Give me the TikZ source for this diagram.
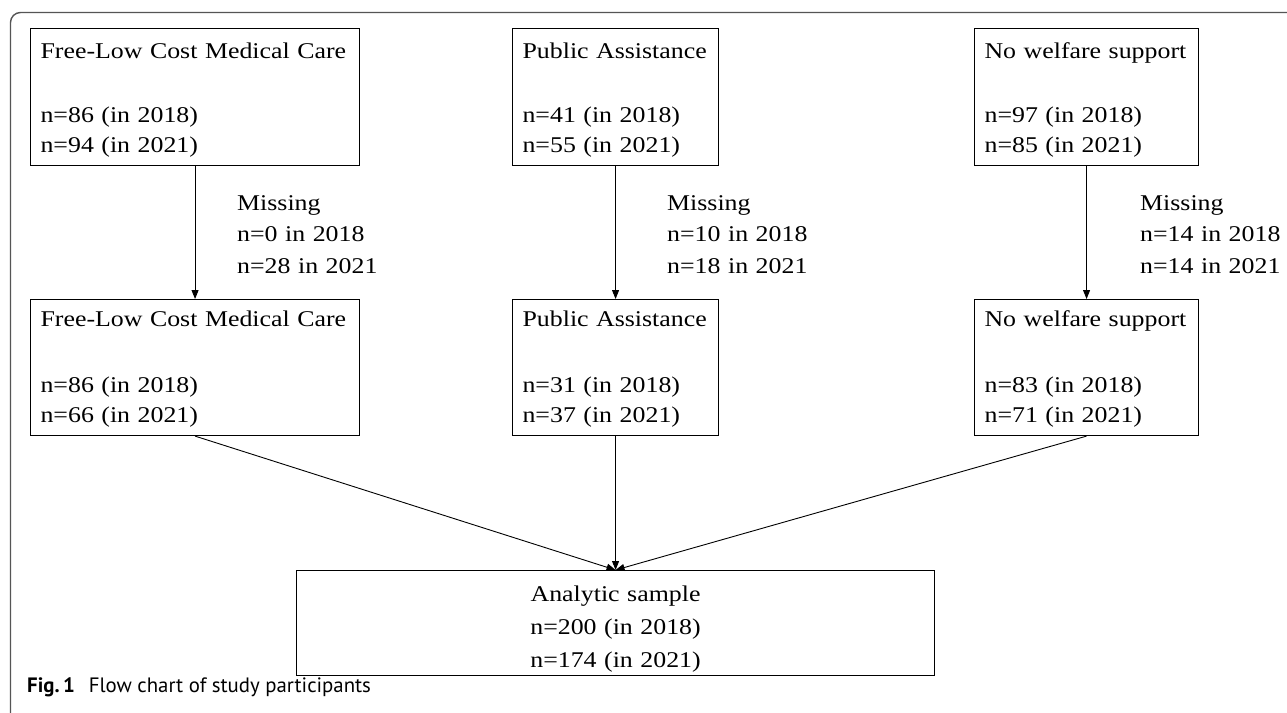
\documentclass[tikz,border=0pt]{standalone}
\usepackage{fontspec}
\setmainfont{Liberation Serif}
\newfontfamily\tnr[FakeStretch=1.15]{Liberation Serif}
\newfontfamily\capfont{PT Sans}
\usetikzlibrary{arrows.meta,calc}
\definecolor{framegray}{RGB}{85,85,85}
\tikzset{
  boxbase/.style={draw=black, line width=1.1pt, inner xsep=10pt, inner ysep=0pt,
    anchor=north west, font={\tnr\fontsize{22.5}{30}\selectfont\hyphenpenalty=10000}},
  topbox/.style={boxbase, align=left, text height=30pt, text depth=107pt},
  midbox/.style={boxbase, align=left, text height=27pt, text depth=109pt},
  finalbox/.style={boxbase, align=center, font={\tnr\fontsize{22.5}{33}\selectfont},
    text height=31pt, text depth=74pt},
  misslab/.style={anchor=base west, inner sep=0pt, align=left, text width=160pt,
    font={\tnr\fontsize{22.5}{31.5}\selectfont}},
  arr/.style={line width=0.9pt, -{Triangle[length=9pt,width=7pt]}},
  frameline/.style={draw=framegray, line width=1.4pt, rounded corners=10pt},
}
\begin{document}
\begin{tikzpicture}[x=1pt,y=-1pt]
\useasboundingbox (0,0) rectangle (1287,712);
\path[fill=white] (0,0) rectangle (1287,712);
\draw[frameline] (10.5,730) -- (10.5,12.5) -- (1310,12.5);

% top row
\node[topbox, text width=309pt] (a1) at (30,28)
  {\mbox{Free-Low Cost Medical Care}\\[34pt]n=86 (in 2018)\\n=94 (in 2021)};
\node[topbox, text width=186pt] (a2) at (512,28)
  {\mbox{Public Assistance}\\[34pt]n=41 (in 2018)\\n=55 (in 2021)};
\node[topbox, text width=204pt] (a3) at (974,28)
  {\mbox{No welfare support}\\[34pt]n=97 (in 2018)\\n=85 (in 2021)};

% middle row
\node[midbox, text width=309pt] (b1) at (30,299)
  {\mbox{Free-Low Cost Medical Care}\\[36pt]n=86 (in 2018)\\n=66 (in 2021)};
\node[midbox, text width=186pt] (b2) at (512,299)
  {\mbox{Public Assistance}\\[36pt]n=31 (in 2018)\\n=37 (in 2021)};
\node[midbox, text width=204pt] (b3) at (974,299)
  {\mbox{No welfare support}\\[36pt]n=83 (in 2018)\\n=71 (in 2021)};

% final
\node[finalbox, text width=618pt] (c) at (296,570)
  {Analytic sample\\n=200 (in 2018)\\n=174 (in 2021)};

% missing labels
\node[misslab] (m1) at (237,210) {Missing\\n=0 in 2018\\n=28 in 2021};
\node[misslab] (m2) at (667,210) {Missing\\n=10 in 2018\\n=18 in 2021};
\node[misslab] (m3) at (1140,210) {Missing\\n=14 in 2018\\n=14 in 2021};

% connectors
\draw[arr] (a1.south) -- (b1.north);
\draw[arr] (a2.south) -- (b2.north);
\draw[arr] (a3.south) -- (b3.north);
\draw[arr] (b1.south) -- (c.north);
\draw[arr] (b2.south) -- (c.north);
\draw[arr] (b3.south) -- (c.north);

% caption
\node[anchor=base west, inner sep=0pt, font={\capfont\fontsize{20.8}{20.8}\selectfont}] (cap) at (27,692)
  {\textbf{Fig.\,1}\hspace{14pt}Flow chart of study participants};
\end{tikzpicture}
\end{document}
